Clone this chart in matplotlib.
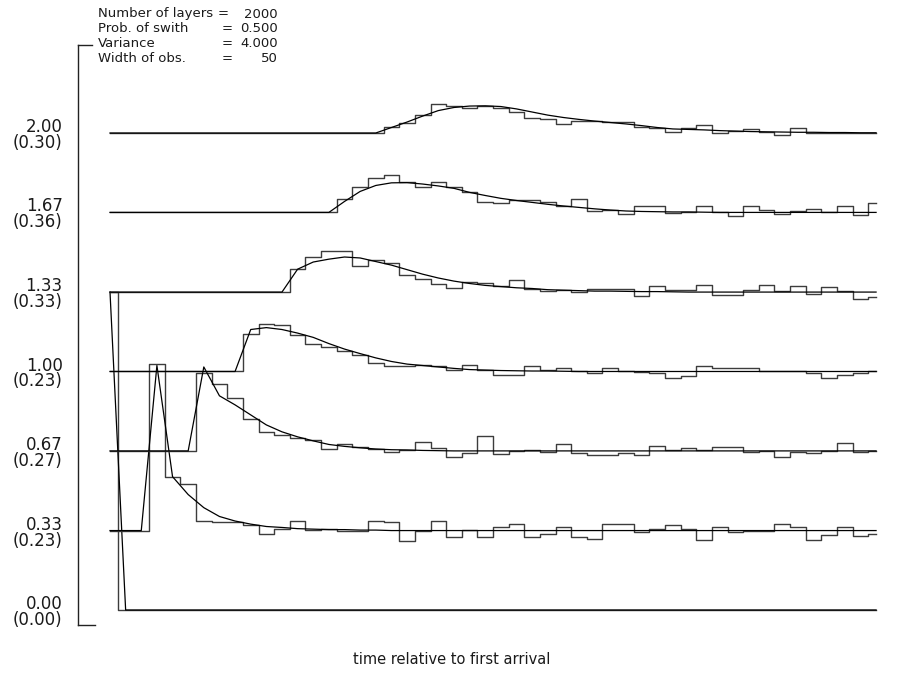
import numpy as np
import matplotlib
matplotlib.use('Agg')
import matplotlib.pyplot as plt
from matplotlib.transforms import ScaledTranslation

# 50 observation windows along the time axis
time_bins = np.arange(50)

# baseline of each trace and the two-line tick labels
levels = [0.0, 0.333, 0.667, 1.0, 1.333, 1.667, 2.0]
level_labels = ['0.00', '0.33', '0.67', '1.00', '1.33', '1.67', '2.00']
spread_labels = ['(0.00)', '(0.23)', '(0.27)', '(0.23)', '(0.33)', '(0.36)', '(0.30)']

# observed (histogram) pulses, relative to each baseline
obs_0 = [1.333, 0, 0, 0, 0, 0, 0, 0, 0, 0, 0, 0, 0, 0, 0, 0, 0, 0, 0, 0, 0, 0, 0, 0, 0,
         0, 0, 0, 0, 0, 0, 0, 0, 0, 0, 0, 0, 0, 0, 0, 0, 0, 0, 0, 0, 0, 0, 0, 0, 0]
obs_1 = [0, 0, 0, 0.700, 0.226, 0.197, 0.042, 0.034, 0.034, 0.025, -0.013, 0.008, 0.038,
         0.004, 0.008, 0, 0, 0.042, 0.034, -0.042, 0, 0.042, -0.029, 0.004, -0.029, 0.017,
         0.029, -0.025, -0.013, 0.013, -0.025, -0.034, 0.029, 0.029, -0.008, 0.008, 0.025,
         0.008, -0.038, 0.013, -0.008, 0, 0, 0.029, 0.013, -0.038, -0.017, 0.013, -0.021, -0.013]
obs_2 = [0, 0, 0, 0, 0, 0, 0.327, 0.281, 0.222, 0.134, 0.080, 0.067, 0.055, 0.046, 0.008,
         0.029, 0.017, 0.008, -0.004, 0.004, 0.038, 0.013, -0.025, -0.008, 0.063, -0.013, 0,
         0.004, -0.004, 0.029, -0.008, -0.017, -0.017, -0.008, -0.017, 0.021, 0.004, 0.013,
         0.004, 0.017, 0.017, -0.004, 0, -0.025, -0.004, -0.008, 0, 0.034, -0.004, 0]
obs_3 = [0, 0, 0, 0, 0, 0, 0, 0, 0, 0.159, 0.201, 0.197, 0.155, 0.117, 0.101, 0.088, 0.071,
         0.034, 0.025, 0.021, 0.029, 0.021, 0.008, 0.029, 0.008, -0.013, -0.013, 0.021, 0.008,
         0.013, 0, -0.008, 0.015, 0, -0.004, -0.008, -0.029, -0.021, 0.025, 0.013, 0.013,
         0.013, 0.004, 0, 0, -0.008, -0.029, -0.013, -0.008, 0]
obs_4 = [0, 0, 0, 0, 0, 0, 0, 0, 0, 0, 0, 0, 0.096, 0.147, 0.172, 0.172, 0.109, 0.134, 0.122,
         0.071, 0.055, 0.034, 0.017, 0.042, 0.038, 0.025, 0.050, 0.013, 0.004, 0.008, 0,
         0.013, 0.013, 0.013, -0.017, 0.025, 0.008, 0.008, 0.029, -0.013, -0.013, 0.008,
         0.029, 0.004, 0.025, -0.008, 0.021, 0.004, -0.029, -0.021]
obs_5 = [0, 0, 0, 0, 0, 0, 0, 0, 0, 0, 0, 0, 0, 0, 0, 0.055, 0.105, 0.143, 0.155, 0.126,
         0.105, 0.126, 0.105, 0.084, 0.042, 0.038, 0.050, 0.050, 0.042, 0.029, 0.055, 0.008,
         0.010, -0.008, 0.025, 0.025, -0.002, 0.002, 0.025, 0.001, -0.013, 0.029, 0.010,
         -0.008, 0.004, 0.013, 0, 0.029, -0.010, 0.040]
obs_6 = [0, 0, 0, 0, 0, 0, 0, 0, 0, 0, 0, 0, 0, 0, 0, 0, 0, 0, 0.025, 0.042, 0.075, 0.122,
         0.113, 0.105, 0.113, 0.105, 0.088, 0.063, 0.057, 0.036, 0.052, 0.052, 0.048, 0.048,
         0.025, 0.019, 0.004, 0.023, 0.034, 0, 0.008, 0.015, 0.004, -0.008, 0.023, 0, 0.001,
         0.001, 0, 0.001]

# model (smooth) pulses
mod_0 = [1.333, 0, 0, 0, 0, 0, 0, 0, 0, 0, 0, 0, 0, 0, 0, 0, 0, 0, 0, 0, 0, 0, 0, 0, 0,
         0, 0, 0, 0, 0, 0, 0, 0, 0, 0, 0, 0, 0, 0, 0, 0, 0, 0, 0, 0, 0, 0, 0, 0, 0]
mod_1 = [0, 0, 0, 0.692, 0.226, 0.151, 0.096, 0.059, 0.040, 0.027, 0.017, 0.013, 0.008,
         0.006, 0.004, 0.004, 0.002, 0.002, 0, 0, 0, 0, 0, 0, 0, 0, 0, 0, 0, 0, 0, 0, 0, 0,
         0, 0, 0, 0, 0, 0, 0, 0, 0, 0, 0, 0, 0, 0, 0, 0]
mod_2 = [0, 0, 0, 0, 0, 0, 0.352, 0.231, 0.193, 0.151, 0.109, 0.080, 0.059, 0.042, 0.027,
         0.019, 0.013, 0.008, 0.005, 0.004, 0.002, 0.001, 0, 0, 0, 0, 0, 0, 0, 0, 0, 0, 0, 0,
         0, 0, 0, 0, 0, 0, 0, 0, 0, 0, 0, 0, 0, 0, 0, 0]
mod_3 = [0, 0, 0, 0, 0, 0, 0, 0, 0, 0.176, 0.184, 0.176, 0.161, 0.143, 0.117, 0.094, 0.075,
         0.057, 0.042, 0.031, 0.025, 0.019, 0.013, 0.008, 0.006, 0.004, 0.003, 0.002, 0.002,
         0.001, 0, 0, 0, 0, 0, 0, 0, 0, 0, 0, 0, 0, 0, 0, 0, 0, 0, 0, 0, 0]
mod_4 = [0, 0, 0, 0, 0, 0, 0, 0, 0, 0, 0, 0, 0.096, 0.126, 0.138, 0.147, 0.143, 0.128, 0.113,
         0.094, 0.075, 0.059, 0.046, 0.036, 0.028, 0.023, 0.018, 0.015, 0.010, 0.008, 0.006,
         0.004, 0.004, 0.003, 0.002, 0.002, 0.001, 0, 0, 0, 0, 0, 0, 0, 0, 0, 0, 0, 0, 0]
mod_5 = [0, 0, 0, 0, 0, 0, 0, 0, 0, 0, 0, 0, 0, 0, 0, 0.046, 0.088, 0.113, 0.124, 0.125,
         0.119, 0.111, 0.101, 0.084, 0.071, 0.059, 0.050, 0.042, 0.034, 0.027, 0.021, 0.015,
         0.010, 0.006, 0.004, 0.003, 0.002, 0.002, 0.001, 0, 0, 0, 0, 0, 0, 0, 0, 0, 0, 0]
mod_6 = [0, 0, 0, 0, 0, 0, 0, 0, 0, 0, 0, 0, 0, 0, 0, 0, 0, 0, 0.023, 0.046, 0.071, 0.094,
         0.107, 0.113, 0.114, 0.111, 0.101, 0.088, 0.075, 0.065, 0.057, 0.050, 0.044, 0.038,
         0.031, 0.023, 0.017, 0.015, 0.013, 0.010, 0.008, 0.006, 0.005, 0.004, 0.003, 0.003,
         0.002, 0.002, 0.001, 0.001]

observed = [obs_0, obs_1, obs_2, obs_3, obs_4, obs_5, obs_6]
model = [mod_0, mod_1, mod_2, mod_3, mod_4, mod_5, mod_6]

params = [('Number of layers', '=', '2000'),
          ('Prob. of swith', '=', '0.500'),
          ('Variance', '=', '4.000'),
          ('Width of obs.', '=', '50')]

W, H = 915, 686
fig = plt.figure(figsize=(W / 100, H / 100), dpi=100)
txt_color = '#1a1a1a'

# axes box in pixels: x 78..900, y 45..625
ax = fig.add_axes([78 / W, (H - 625) / H, 822 / W, 580 / H])
ax.set_xlim(-2.047, 50.53)
ax.set_ylim(-0.063, 2.369)

for base, obs, mod in zip(levels, observed, model):
    ax.step(time_bins, base + np.array(obs), where='mid', color='#3c3c3c', lw=1.0)
    ax.plot(time_bins, base + np.array(mod), color='black', lw=0.9)

for s in ['top', 'right', 'bottom']:
    ax.spines[s].set_visible(False)
ax.spines['left'].set_linewidth(1.0)
ax.spines['left'].set_color('#222222')

ax.set_xticks([])
ax.set_yticks(levels)
ax.set_yticklabels([a + '\n' + b for a, b in zip(level_labels, spread_labels)],
                   fontsize=12, linespacing=0.85, ha='right', va='center', color=txt_color)
ax.tick_params(axis='y', length=0, pad=11)
shift = ScaledTranslation(0, -0.02, fig.dpi_scale_trans)
for lbl in ax.get_yticklabels():
    lbl.set_transform(lbl.get_transform() + shift)

# little ticks closing the left axis at both ends
ax.plot([0, 17 / 822], [0, 0], transform=ax.transAxes, color='#222222', lw=1.0, clip_on=False)
ax.plot([0, 14 / 822], [1, 1], transform=ax.transAxes, color='#222222', lw=1.0, clip_on=False)

# parameter block
for i, (name, eq, val) in enumerate(params):
    y = 1 - (14 + 14.7 * i) / H
    fig.text(98 / W, y, name, fontsize=9.5, ha='left', va='center', color=txt_color)
    eq_x = 223 if i == 0 else 227
    fig.text(eq_x / W, y, eq, fontsize=9.5, ha='center', va='center', color=txt_color)
    fig.text(278 / W, y, val, fontsize=9.5, ha='right', va='center', color=txt_color)

fig.text(452 / W, 1 - 660 / H, 'time relative to first arrival', fontsize=10.5,
         ha='center', va='center', color=txt_color)

fig.savefig('out.png', dpi=100)
